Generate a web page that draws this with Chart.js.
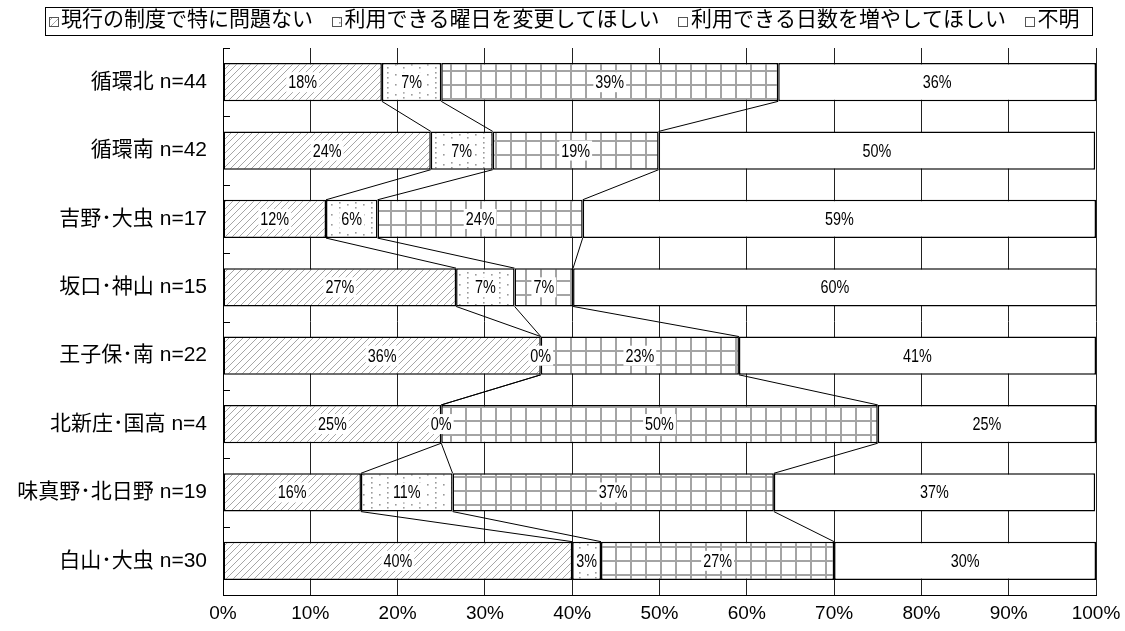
<!DOCTYPE html>
<html>
<head>
<meta charset="utf-8">
<script src="https://cdn.jsdelivr.net/npm/chart.js@4"></script>
<style>
html,body{margin:0;padding:0;background:#fff;}
#wrap{width:1125px;height:631px;position:relative;}
</style>
</head>
<body>
<div id="wrap"><canvas id="c"></canvas></div>
<script>
const categories = ['循環北 n=44','循環南 n=42','吉野･大虫 n=17','坂口･神山 n=15','王子保･南 n=22','北新庄･国高 n=4','味真野･北日野 n=19','白山･大虫 n=30'];
const seriesNames = ['現行の制度で特に問題ない','利用できる曜日を変更してほしい','利用できる日数を増やしてほしい','不明'];
const noProblem  = [18.2, 23.8, 11.8, 26.7, 36.4, 25.0, 15.8, 40.0];
const changeDays = [ 6.8,  7.1,  5.9,  6.7,  0.0,  0.0, 10.5,  3.3];
const moreDays   = [38.6, 19.0, 23.5,  6.7, 22.7, 50.0, 36.8, 26.7];
const unknown    = [36.4, 50.0, 58.8, 60.0, 40.9, 25.0, 36.8, 30.0];
const xTickValues = [0,10,20,30,40,50,60,70,80,90,100];

const LATIN_CJK = '"Liberation Sans", "Noto Sans CJK JP", sans-serif';

function makePattern(w, h, draw) {
  const c = document.createElement('canvas');
  c.width = w; c.height = h;
  const g = c.getContext('2d');
  g.fillStyle = '#fff'; g.fillRect(0, 0, w, h);
  draw(g, w, h);
  return document.getElementById('c').getContext('2d').createPattern(c, 'repeat');
}
const hatch = makePattern(7, 7, (g, w, h) => {
  g.strokeStyle = '#a6a6a6'; g.lineWidth = 1;
  g.beginPath();
  g.moveTo(-1, h + 1); g.lineTo(w + 1, -1);
  g.moveTo(-1, 1); g.lineTo(1, -1);
  g.moveTo(w - 1, h + 1); g.lineTo(w + 1, h - 1);
  g.stroke();
});
const dots = makePattern(16, 10, (g) => {
  g.fillStyle = '#9a9a9a';
  [[3,2],[3,7],[11,4]].forEach(p => g.fillRect(p[0], p[1], 1.6, 1.6));
});
const grid = makePattern(15, 14, (g, w, h) => {
  g.fillStyle = '#a4a4a4';
  g.fillRect(0, 0, 2, h);
  g.fillRect(0, 0, w, 2);
});
const fills = [hatch, dots, grid, '#fff'];

const seriesLines = {
  id: 'seriesLines',
  afterDatasetsDraw(chart) {
    const ctx = chart.ctx;
    ctx.save();
    ctx.strokeStyle = '#000'; ctx.lineWidth = 1;
    for (let k = 0; k < 3; k++) {
      const els = chart.getDatasetMeta(k).data;
      for (let i = 0; i < els.length - 1; i++) {
        const a = els[i], b = els[i + 1];
        ctx.beginPath();
        ctx.moveTo(a.x, a.y + a.height / 2);
        ctx.lineTo(b.x, b.y - b.height / 2);
        ctx.stroke();
      }
    }
    ctx.restore();
  }
};

const dataLabels = {
  id: 'dataLabels',
  afterDatasetsDraw(chart) {
    const ctx = chart.ctx;
    const sx = 0.8;
    ctx.save();
    ctx.font = '18px "Liberation Sans", sans-serif';
    ctx.textAlign = 'center';
    ctx.textBaseline = 'middle';
    chart.data.datasets.forEach((ds, k) => {
      chart.getDatasetMeta(k).data.forEach((el, i) => {
        const txt = Math.round(ds.data[i]) + '%';
        const cx = (el.x + el.base) / 2;
        const w = ctx.measureText(txt).width * sx;
        ctx.fillStyle = '#fff';
        ctx.fillRect(cx - w / 2 - 2, el.y - 10, w + 4, 20);
        ctx.save();
        ctx.translate(cx, el.y + 1);
        ctx.scale(sx, 1);
        ctx.fillStyle = '#000';
        ctx.fillText(txt, 0, 0);
        ctx.restore();
      });
    });
    ctx.restore();
  }
};

const layoutTweak = {
  id: 'layoutTweak',
  beforeLayout(chart) {
    const lg = chart.legend;
    if (lg && !lg._patched) {
      const orig = lg.fit;
      lg.fit = function () { orig.call(this); this.height -= 4; };
      lg._patched = true;
    }
  },
  afterLayout(chart) {
    const lg = chart.legend;
    if (lg) { lg.left += 16; lg.right += 16; lg.top -= 11; lg.bottom -= 11; }
  }
};

const axisDecor = {
  id: 'axisDecor',
  afterDraw(chart) {
    const ctx = chart.ctx;
    const ys = chart.scales.y;
    const left = chart.chartArea.left;
    ctx.save();
    ctx.strokeStyle = '#000'; ctx.lineWidth = 1;
    const n = categories.length;
    const band = (ys.getPixelForValue(n - 1) - ys.getPixelForValue(0)) / (n - 1);
    for (let i = 0; i < n; i++) {
      const yb = Math.round(ys.getPixelForValue(i) - band / 2) + 0.5;
      ctx.beginPath(); ctx.moveTo(left, yb); ctx.lineTo(left + 7, yb); ctx.stroke();
    }
    // legend markers and frame
    const hb = chart.legend.legendHitBoxes;
    if (hb && hb.length) {
      let l = Infinity, r = -Infinity, t = Infinity;
      hb.forEach((h, k) => {
        l = Math.min(l, h.left); r = Math.max(r, h.left + h.width);
        t = Math.min(t, h.top);
        const mx = Math.round(h.left) + 0.5, my = Math.round(h.top + (h.height - 9) / 2 + 1) + 0.5;
        ctx.fillStyle = fills[k];
        ctx.fillRect(mx, my, 9, 9);
        ctx.strokeStyle = '#555'; ctx.lineWidth = 1;
        ctx.strokeRect(mx, my, 9, 9);
      });
      ctx.strokeStyle = '#000'; ctx.lineWidth = 1;
      const fx = Math.round(l - 4) + 0.5, fy = Math.round(t + 10.5 - 14) + 0.5;
      ctx.strokeRect(fx, fy, Math.round(r + 12 - (l - 4)), 28);
    }
    ctx.restore();
  }
};

const datasets = [noProblem, changeDays, moreDays, unknown].map((d, k) => ({
  label: seriesNames[k],
  data: d,
  backgroundColor: fills[k],
  borderColor: '#000',
  borderWidth: 1.5,
  borderSkipped: false,
  categoryPercentage: 1,
  barPercentage: 0.56
}));

new Chart(document.getElementById('c'), {
  type: 'bar',
  data: { labels: categories, datasets },
  options: {
    indexAxis: 'y',
    responsive: true,
    maintainAspectRatio: false,
    animation: false,
    devicePixelRatio: 1,
    layout: { padding: { top: 2, right: 29, left: 0, bottom: 0 } },
    plugins: {
      tooltip: { enabled: false },
      legend: {
        display: true,
        position: 'top',
        labels: {
          font: { size: 21, family: LATIN_CJK },
          color: '#000',
          boxWidth: 2,
          boxHeight: 9,
          padding: 19,
          generateLabels(chart) {
            const items = Chart.defaults.plugins.legend.labels.generateLabels(chart);
            items.forEach(it => { it.fillStyle = 'rgba(0,0,0,0)'; it.strokeStyle = 'rgba(0,0,0,0)'; it.lineWidth = 0; });
            return items;
          }
        }
      }
    },
    scales: {
      x: {
        stacked: true,
        min: 0, max: 100,
        afterBuildTicks(scale) { scale.ticks = xTickValues.map(v => ({ value: v })); },
        afterFit(scale) { scale.height = 36; scale.paddingLeft = 0; scale.paddingRight = 0; },
        ticks: {
          callback: v => v + '%',
          font: { size: 19, family: '"Liberation Sans", sans-serif' },
          color: '#000',
          padding: 7,
          maxRotation: 0
        },
        grid: { color: '#222', lineWidth: 1, drawTicks: false },
        border: { display: true, color: '#000', width: 1 }
      },
      y: {
        stacked: true,
        afterFit(scale) { scale.width = 223; },
        ticks: {
          font: { size: 21, family: LATIN_CJK },
          color: '#000',
          padding: 8
        },
        grid: { display: false },
        border: { display: true, color: '#000', width: 1 }
      }
    }
  },
  plugins: [layoutTweak, seriesLines, dataLabels, axisDecor]
});
</script>
</body>
</html>
